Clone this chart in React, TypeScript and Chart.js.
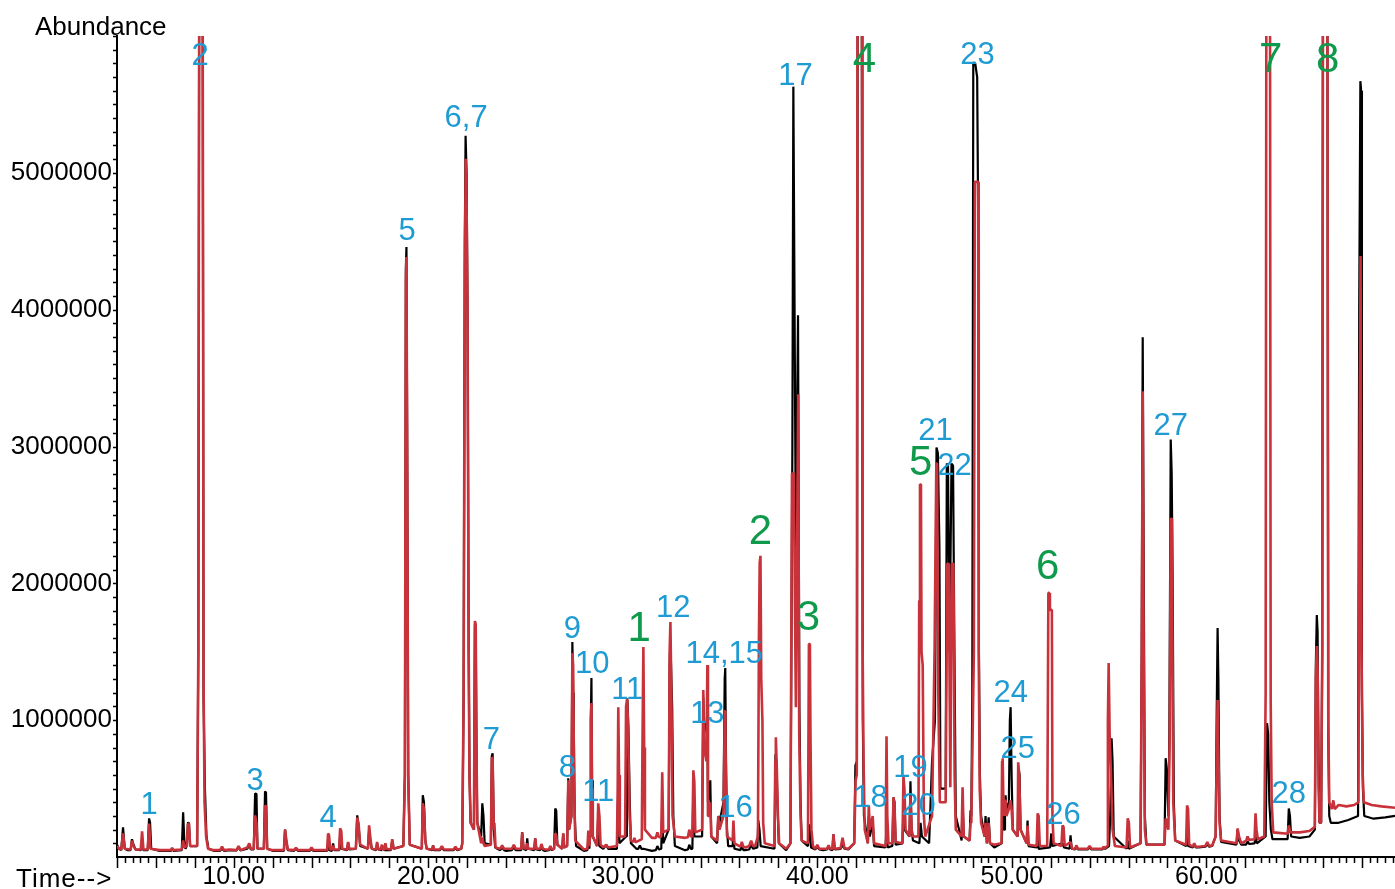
import React, { useEffect, useRef } from "react";
import { Chart, registerables } from "chart.js";

Chart.register(...registerables);

// Abundance values are stored in thousands (k counts); time in minutes.
const UNIT = 1000;

const BLACK_TRACE: [number, number][] = [
  [4.00, 90], [4.10, 60], [4.22, 50], [4.31, 216], [4.40, 60], [4.55, 50], [4.70, 50], [4.77, 130], [4.85, 90], [4.95, 55],
  [5.22, 50], [5.29, 84], [5.36, 50], [5.58, 50], [5.65, 282], [5.70, 250], [5.76, 60], [6.20, 45], [6.78, 45], [6.83, 65],
  [6.90, 45], [7.33, 50], [7.40, 326], [7.46, 120], [7.52, 60], [7.58, 80], [7.65, 253], [7.70, 240], [7.76, 80], [8.12, 80],
  [8.18, 1500], [8.23, 6800], [8.40, 6800], [8.45, 1150], [8.52, 500], [8.60, 150], [8.70, 60], [9.00, 45], [9.80, 50], [10.15, 48],
  [10.25, 75], [10.35, 48], [10.70, 60], [10.80, 95], [10.88, 55], [11.03, 55], [11.10, 465], [11.17, 460], [11.22, 60], [11.55, 60],
  [11.61, 480], [11.66, 470], [11.72, 60], [12.00, 45], [12.58, 45], [12.64, 200], [12.70, 120], [12.78, 50], [13.50, 45], [14.50, 45],
  [14.80, 45], [14.85, 90], [14.92, 50], [15.05, 45], [15.11, 100], [15.17, 50], [15.42, 50], [15.47, 160], [15.53, 60], [15.83, 50],
  [15.88, 106], [15.94, 55], [16.28, 60], [16.35, 304], [16.42, 230], [16.50, 80], [16.90, 60], [16.96, 194], [17.04, 100], [17.10, 60],
  [17.32, 50], [17.37, 99], [17.43, 55], [18.08, 50], [18.15, 121], [18.22, 60], [18.72, 80], [18.80, 600], [18.85, 4300], [18.88, 4458],
  [18.92, 3000], [18.97, 600], [19.05, 90], [19.67, 60], [19.72, 451], [19.78, 400], [19.85, 120], [19.92, 60], [20.20, 50], [20.25, 84],
  [20.30, 50], [21.20, 50], [21.70, 60], [21.75, 100], [21.82, 1200], [21.88, 4500], [21.92, 5271], [21.97, 5000], [22.02, 4000], [22.08, 1500],
  [22.12, 600], [22.18, 250], [22.35, 200], [22.40, 1700], [22.44, 1690], [22.48, 800], [22.52, 250], [22.72, 150], [22.78, 392], [22.84, 300],
  [22.90, 100], [23.22, 90], [23.27, 740], [23.31, 758], [23.37, 200], [23.44, 70], [24.00, 45], [24.78, 50], [24.83, 180], [24.90, 60],
  [25.04, 50], [25.09, 136], [25.14, 60], [25.45, 50], [25.50, 136], [25.56, 55], [26.00, 45], [26.47, 60], [26.53, 355], [26.58, 340],
  [26.64, 90], [26.89, 60], [26.94, 172], [26.99, 70], [27.14, 80], [27.20, 575], [27.24, 200], [27.36, 300], [27.41, 1571], [27.45, 1200],
  [27.48, 976], [27.53, 300], [27.60, 80], [28.00, 45], [28.18, 50], [28.23, 106], [28.28, 60], [28.32, 150], [28.36, 1000], [28.39, 1308],
  [28.42, 560], [28.46, 150], [28.68, 80], [28.74, 304], [28.80, 80], [29.00, 60], [29.15, 90], [29.25, 60], [29.70, 60], [29.77, 509],
  [29.83, 100], [30.17, 150], [30.21, 1100], [30.24, 1147], [30.29, 950], [30.36, 400], [30.42, 100], [30.70, 60], [31.06, 60], [31.50, 45],
  [31.98, 60], [32.03, 341], [32.08, 100], [32.36, 200], [32.41, 1400], [32.45, 1586], [32.50, 1300], [32.54, 1100], [32.60, 300], [32.68, 80],
  [33.20, 50], [33.58, 60], [33.63, 509], [33.68, 150], [34.08, 150], [34.14, 1168], [34.18, 900], [34.32, 1000], [34.35, 1051], [34.38, 400],
  [34.47, 500], [34.50, 560], [34.55, 150], [34.85, 100], [34.91, 300], [34.97, 250], [35.18, 400], [35.24, 1300], [35.27, 1381], [35.31, 700],
  [35.36, 200], [35.42, 80], [35.65, 80], [35.69, 180], [35.74, 60], [36.30, 50], [36.92, 70], [36.97, 267], [37.03, 200], [37.09, 80],
  [37.80, 60], [37.85, 750], [37.90, 700], [37.95, 400], [38.02, 100], [38.40, 50], [38.62, 100], [38.72, 2990], [38.77, 5630], [38.90, 2260],
  [39.01, 3960], [39.08, 1100], [39.14, 400], [39.20, 120], [39.52, 80], [39.60, 238], [39.68, 70], [40.30, 50], [40.78, 50], [40.83, 165],
  [40.90, 55], [41.60, 55], [41.90, 100], [41.96, 670], [42.04, 700], [42.08, 6800], [42.28, 6800], [42.34, 1000], [42.40, 300], [42.60, 100],
  [42.65, 300], [42.70, 150], [42.85, 250], [42.92, 80], [43.50, 70], [43.56, 194], [43.62, 70], [43.86, 80], [43.92, 436], [43.97, 400],
  [44.03, 90], [44.38, 100], [44.43, 340], [44.48, 200], [44.74, 150], [44.79, 553], [44.85, 200], [44.92, 120], [45.25, 100], [45.31, 250],
  [45.38, 150], [45.75, 100], [45.90, 700], [46.05, 1000], [46.13, 2993], [46.20, 2950], [46.28, 2260], [46.33, 500], [46.60, 500], [46.66, 2875],
  [46.72, 2860], [46.80, 1500], [46.90, 2875], [46.98, 2860], [47.05, 1520], [47.12, 300], [47.42, 120], [47.47, 400], [47.53, 150], [47.83, 120],
  [47.88, 341], [47.92, 300], [47.97, 1200], [48.02, 5806], [48.12, 5800], [48.22, 5700], [48.28, 4500], [48.31, 1500], [48.36, 600], [48.42, 300],
  [48.60, 150], [48.65, 300], [48.72, 100], [48.81, 290], [48.88, 100], [49.10, 70], [49.48, 100], [49.53, 300], [49.60, 200], [49.65, 300],
  [49.68, 451], [49.72, 350], [49.85, 400], [49.90, 1000], [49.94, 1095], [49.99, 600], [50.05, 200], [50.30, 150], [50.35, 650], [50.40, 600],
  [50.45, 200], [50.76, 100], [50.81, 267], [50.86, 80], [51.28, 70], [51.33, 150], [51.38, 60], [51.97, 70], [52.03, 172], [52.08, 80],
  [52.61, 100], [52.68, 70], [52.97, 60], [53.02, 158], [53.08, 60], [53.50, 55], [54.50, 55], [55.00, 80], [55.06, 300], [55.13, 868],
  [55.18, 700], [55.24, 150], [55.90, 60], [55.96, 120], [56.02, 60], [56.62, 100], [56.68, 1500], [56.73, 3799], [56.78, 2200], [56.84, 300],
  [56.92, 90], [57.85, 90], [57.91, 722], [57.96, 650], [58.05, 300], [58.10, 900], [58.17, 3051], [58.22, 2800], [58.27, 2000], [58.33, 400],
  [58.40, 120], [58.96, 80], [59.01, 150], [59.07, 80], [59.60, 70], [60.30, 80], [60.48, 150], [60.53, 1000], [60.58, 1674], [60.62, 1300],
  [60.68, 300], [60.76, 110], [61.55, 90], [61.61, 200], [61.68, 120], [61.80, 90], [62.48, 100], [62.53, 150], [62.60, 100], [63.05, 150],
  [63.12, 978], [63.18, 900], [63.24, 400], [63.32, 200], [63.40, 130], [64.18, 130], [64.24, 355], [64.30, 300], [64.36, 150], [64.80, 140],
  [65.30, 150], [65.58, 200], [65.63, 1400], [65.68, 1769], [65.72, 1650], [65.77, 700], [65.82, 250], [65.90, 250], [65.96, 1500], [66.00, 6800],
  [66.22, 6800], [66.27, 900], [66.32, 300], [66.40, 250], [66.80, 250], [67.30, 270], [67.80, 300], [67.86, 4000], [67.92, 5670], [67.96, 5600],
  [68.00, 1200], [68.05, 500], [68.12, 300], [68.60, 280], [69.20, 290], [69.70, 300],
];

// Small baseline bumps of the black trace
const BLACK_BASELINE_BUMPS: [number, number][] = [
  [9.30, 45], [9.40, 62], [9.50, 45], [13.10, 45], [13.20, 60], [13.30, 45], [13.90, 45], [14.00, 58], [14.10, 45],
  [17.60, 50], [17.68, 80], [17.75, 50], [20.60, 50], [20.70, 70], [20.80, 50], [21.30, 50], [21.40, 65], [21.50, 50],
  [23.70, 50], [23.80, 70], [23.90, 50], [24.30, 50], [24.40, 72], [24.50, 50], [25.75, 50], [25.82, 75], [25.90, 50],
  [26.20, 50], [26.28, 62], [26.36, 50], [30.80, 60], [30.88, 85], [30.96, 60], [31.70, 50], [31.78, 80], [31.86, 55],
  [33.35, 55], [33.42, 90], [33.50, 60], [36.05, 50], [36.12, 80], [36.20, 50], [36.50, 55], [36.60, 90], [36.70, 60],
  [39.90, 55], [40.00, 75], [40.10, 55], [40.50, 55], [40.58, 72], [40.66, 55], [41.20, 60], [41.30, 90], [41.40, 60],
  [53.25, 55], [53.32, 75], [53.40, 55], [53.90, 55], [54.00, 70], [54.10, 55], [54.65, 55], [54.72, 68], [54.80, 60],
  [59.30, 70], [59.38, 88], [59.46, 70], [59.95, 75], [60.05, 92], [60.15, 75], [62.05, 90], [62.12, 115], [62.20, 95],
];

const RED_TRACE: [number, number][] = [
  [4.00, 80], [4.10, 60], [4.22, 55], [4.31, 172], [4.40, 60], [4.70, 55], [4.77, 120], [4.85, 80], [4.95, 55], [5.22, 55],
  [5.29, 187], [5.36, 55], [5.58, 55], [5.65, 245], [5.72, 60], [6.20, 50], [6.78, 50], [6.83, 65], [6.90, 50], [7.33, 55],
  [7.40, 121], [7.46, 70], [7.58, 80], [7.65, 245], [7.70, 240], [7.76, 80], [8.12, 80], [8.18, 1500], [8.23, 6800], [8.40, 6800],
  [8.45, 1300], [8.50, 400], [8.58, 150], [8.68, 60], [9.00, 50], [9.80, 55], [10.15, 50], [10.25, 80], [10.35, 50], [10.70, 70],
  [10.80, 100], [10.88, 60], [11.03, 60], [11.10, 304], [11.17, 250], [11.22, 60], [11.55, 60], [11.61, 377], [11.66, 370], [11.72, 60],
  [12.00, 50], [12.58, 50], [12.64, 200], [12.70, 130], [12.78, 55], [13.50, 50], [14.50, 50], [14.80, 50], [14.85, 172], [14.90, 160],
  [14.96, 55], [15.06, 55], [15.11, 84], [15.17, 55], [15.42, 55], [15.47, 209], [15.53, 190], [15.58, 60], [15.83, 55], [15.88, 110],
  [15.94, 60], [16.28, 60], [16.35, 289], [16.42, 240], [16.50, 90], [16.90, 60], [16.96, 231], [17.04, 120], [17.10, 60], [17.32, 55],
  [17.37, 110], [17.43, 60], [17.75, 55], [17.80, 100], [17.85, 60], [18.08, 55], [18.15, 130], [18.22, 60], [18.72, 80], [18.80, 600],
  [18.85, 4200], [18.88, 4385], [18.92, 2800], [18.97, 600], [19.05, 90], [19.67, 60], [19.72, 392], [19.78, 350], [19.85, 120], [19.92, 60],
  [20.20, 55], [20.25, 84], [20.30, 55], [21.20, 55], [21.70, 60], [21.75, 100], [21.82, 1200], [21.88, 4300], [21.93, 5102], [21.97, 4800],
  [22.02, 4000], [22.08, 1500], [22.12, 600], [22.18, 250], [22.35, 200], [22.40, 1725], [22.44, 1700], [22.48, 800], [22.52, 250], [22.72, 100],
  [22.78, 143], [22.84, 100], [22.90, 80], [23.22, 90], [23.27, 729], [23.31, 720], [23.37, 200], [23.40, 250], [23.46, 70], [24.00, 60],
  [24.78, 60], [24.83, 180], [24.90, 65], [25.04, 60], [25.09, 100], [25.14, 60], [25.45, 60], [25.50, 136], [25.56, 60], [26.00, 55],
  [26.47, 60], [26.53, 172], [26.58, 160], [26.64, 90], [26.89, 60], [26.94, 172], [26.99, 70], [27.14, 80], [27.20, 560], [27.24, 200],
  [27.36, 300], [27.41, 1491], [27.45, 1400], [27.50, 500], [27.56, 120], [28.00, 55], [28.18, 60], [28.23, 194], [28.28, 80], [28.32, 150],
  [28.36, 1000], [28.39, 1125], [28.42, 500], [28.46, 150], [28.68, 80], [28.74, 392], [28.80, 300], [28.86, 90], [29.00, 70], [29.15, 90],
  [29.25, 70], [29.70, 80], [29.74, 500], [29.77, 1095], [29.81, 600], [29.85, 150], [30.12, 150], [30.17, 1100], [30.23, 1161], [30.28, 900],
  [30.35, 300], [30.42, 120], [30.70, 110], [30.98, 130], [31.01, 750], [31.06, 1535], [31.10, 800], [31.14, 200], [31.50, 140], [31.98, 150],
  [32.03, 619], [32.08, 180], [32.36, 200], [32.41, 1500], [32.45, 1718], [32.50, 1200], [32.56, 300], [32.68, 150], [33.20, 140], [33.58, 150],
  [33.63, 634], [33.68, 550], [33.73, 180], [34.08, 200], [34.14, 1220], [34.18, 800], [34.30, 700], [34.35, 1403], [34.38, 300], [34.47, 300],
  [34.50, 400], [34.55, 150], [34.85, 120], [34.91, 300], [34.97, 200], [35.18, 300], [35.24, 1000], [35.27, 1073], [35.31, 400], [35.36, 150],
  [35.65, 120], [35.69, 267], [35.74, 100], [36.30, 70], [36.80, 80], [36.95, 150], [37.00, 1600], [37.04, 2150], [37.08, 2201], [37.12, 1300],
  [37.18, 1000], [37.22, 250], [37.30, 100], [37.80, 80], [37.84, 700], [37.87, 875], [37.92, 650], [37.98, 300], [38.04, 100], [38.40, 60],
  [38.62, 100], [38.70, 2802], [38.79, 2802], [38.90, 1095], [39.02, 3381], [39.07, 900], [39.14, 300], [39.20, 120], [39.52, 100], [39.57, 1557],
  [39.62, 1557], [39.65, 900], [39.70, 200], [39.78, 80], [40.30, 60], [40.78, 60], [40.83, 165], [40.90, 60], [41.60, 60], [41.90, 100],
  [41.97, 560], [42.03, 600], [42.07, 6800], [42.30, 6800], [42.33, 1557], [42.38, 700], [42.44, 200], [42.60, 100], [42.65, 377], [42.70, 200],
  [42.85, 300], [42.92, 100], [43.50, 80], [43.53, 400], [43.56, 883], [43.60, 300], [43.66, 100], [43.86, 100], [43.92, 436], [43.97, 380],
  [44.03, 110], [44.38, 100], [44.43, 590], [44.48, 500], [44.54, 200], [44.74, 150], [44.79, 450], [44.85, 200], [44.92, 150], [45.20, 150],
  [45.24, 1872], [45.28, 2722], [45.33, 2722], [45.36, 1500], [45.42, 1400], [45.48, 300], [45.55, 150], [45.90, 300], [46.03, 1520], [46.12, 2875],
  [46.16, 2875], [46.22, 1200], [46.30, 400], [46.60, 400], [46.68, 2143], [46.76, 2143], [46.84, 509], [46.92, 2143], [47.00, 2143], [47.06, 600],
  [47.12, 200], [47.42, 150], [47.47, 509], [47.53, 150], [47.83, 120], [47.88, 250], [47.92, 250], [48.05, 1500], [48.10, 4934], [48.27, 4934],
  [48.30, 1500], [48.35, 500], [48.42, 250], [48.60, 150], [48.65, 250], [48.72, 100], [48.81, 250], [48.88, 100], [49.10, 90], [49.47, 100],
  [49.50, 700], [49.53, 722], [49.57, 400], [49.62, 300], [49.68, 420], [49.72, 300], [49.85, 350], [49.94, 414], [49.99, 350], [50.05, 200],
  [50.30, 150], [50.33, 692], [50.38, 600], [50.45, 200], [50.76, 100], [50.81, 230], [50.86, 90], [51.28, 80], [51.33, 319], [51.38, 300],
  [51.44, 80], [51.82, 80], [51.88, 1930], [51.92, 1930], [51.96, 1806], [52.06, 1806], [52.09, 300], [52.15, 100], [52.55, 80], [52.61, 231],
  [52.66, 220], [52.72, 80], [53.02, 110], [53.10, 60], [53.50, 60], [54.50, 60], [54.90, 80], [54.94, 1000], [54.98, 1418], [55.03, 900],
  [55.10, 600], [55.18, 200], [55.30, 80], [55.90, 70], [55.96, 282], [56.02, 250], [56.08, 70], [56.62, 100], [56.68, 1500], [56.73, 3403],
  [56.78, 1500], [56.84, 200], [56.92, 90], [57.85, 90], [57.91, 282], [57.96, 250], [58.05, 200], [58.12, 900], [58.17, 2472], [58.23, 2472],
  [58.30, 400], [58.40, 120], [58.96, 90], [59.01, 377], [59.06, 350], [59.12, 90], [59.60, 75], [60.30, 85], [60.48, 150], [60.53, 700],
  [60.58, 1147], [60.62, 800], [60.68, 250], [60.76, 120], [61.55, 100], [61.61, 209], [61.68, 150], [61.80, 100], [62.48, 130], [62.53, 319],
  [62.58, 200], [62.65, 130], [62.98, 150], [63.05, 1200], [63.09, 6800], [63.27, 6800], [63.31, 1132], [63.36, 400], [63.44, 180], [64.18, 170],
  [64.24, 230], [64.32, 180], [64.80, 180], [65.30, 190], [65.58, 220], [65.63, 1300], [65.68, 1542], [65.72, 1400], [65.77, 500], [65.82, 250],
  [65.90, 250], [65.96, 1500], [66.00, 6800], [66.22, 6800], [66.27, 1000], [66.32, 400], [66.45, 350], [66.53, 414], [66.60, 350], [66.80, 380],
  [67.20, 370], [67.60, 380], [67.82, 400], [67.88, 3000], [67.93, 4392], [67.98, 1500], [68.04, 600], [68.10, 400], [68.50, 380], [69.00, 370],
  [69.70, 360],
];

// Small baseline bumps of the red trace
const RED_BASELINE_BUMPS: [number, number][] = [
  [9.30, 50], [9.40, 75], [9.50, 50], [13.10, 50], [13.20, 68], [13.30, 50], [13.90, 50], [14.00, 70], [14.10, 50],
  [17.55, 55], [17.62, 90], [17.68, 55], [20.60, 55], [20.70, 80], [20.80, 55], [21.30, 55], [21.40, 75], [21.50, 55],
  [23.70, 60], [23.80, 85], [23.90, 60], [24.30, 60], [24.40, 90], [24.50, 60], [25.75, 60], [25.82, 95], [25.90, 60],
  [26.20, 55], [26.28, 80], [26.36, 55], [30.55, 110], [30.60, 140], [30.65, 110], [31.70, 140], [31.78, 180], [31.86, 145],
  [33.35, 145], [33.42, 200], [33.50, 150], [36.05, 75], [36.12, 110], [36.20, 75], [36.50, 80], [36.60, 120], [36.70, 80],
  [39.90, 60], [40.00, 90], [40.10, 60], [40.50, 60], [40.58, 85], [40.66, 60], [41.20, 65], [41.30, 140], [41.40, 65],
  [53.25, 60], [53.32, 85], [53.40, 60], [53.90, 60], [54.00, 80], [54.10, 60], [54.65, 60], [54.72, 75], [54.80, 65],
  [59.30, 75], [59.38, 100], [59.46, 75], [59.95, 80], [60.05, 110], [60.15, 80], [62.05, 120], [62.12, 150], [62.20, 125],
];

// Peak labels: [text, time (min), abundance (k) at the label centre]
const BLUE_LABELS: [string, number, number][] = [
  ["1", 5.65, 399], ["2", 8.27, 5872], ["3", 11.10, 568], ["4", 14.85, 297], ["5", 18.92, 4590],
  ["6,7", 21.95, 5418], ["7", 23.24, 868], ["8", 27.15, 663], ["9", 27.41, 1681], ["10", 28.43, 1425],
  ["11", 30.23, 1234], ["11", 28.74, 487], ["12", 32.60, 1835], ["13", 34.35, 1059], ["14,15", 35.22, 1498],
  ["16", 35.79, 370], ["17", 38.88, 5725], ["18", 42.74, 443], ["19", 44.79, 663], ["20", 45.20, 385],
  ["21", 46.08, 3132], ["22", 47.06, 2875], ["23", 48.24, 5879], ["24", 49.94, 1212], ["25", 50.30, 802],
  ["26", 52.66, 319], ["27", 58.17, 3168], ["28", 64.24, 473],
];

const GREEN_LABELS: [string, number, number][] = [
  ["1", 30.85, 1689], ["2", 37.08, 2399], ["3", 39.55, 1769], ["4", 42.43, 5850],
  ["5", 45.31, 2898], ["6", 51.84, 2143], ["7", 63.31, 5850], ["8", 66.24, 5850],
];

const X_TICK_LABELS = [10, 20, 30, 40, 50, 60];
const Y_TICK_LABELS = [1000000, 2000000, 3000000, 4000000, 5000000];
const X_MIN = 4;
const X_MAX = 69.7;
const Y_MAX = 6000000;
const X_MINOR_STEP = 0.4;
const X_MAJOR_STEP = 2;
const Y_MINOR_STEP = 100000;

const FONT = '"Liberation Sans", Arial, Helvetica, sans-serif';
const BLUE = "#1e9bd2";
const GREEN = "#0f9a4b";
const RED = "#c8323a";

export default function App() {
  const ref = useRef<HTMLCanvasElement>(null);

  useEffect(() => {
    const canvas = ref.current;
    if (!canvas) return;

    const decor = {
      id: "decor",
      afterDatasetsDraw(chart: any) {
        const { ctx, scales } = chart;
        const xs = scales.x;
        const ys = scales.y;
        const draw = (list: [string, number, number][], color: string, size: number) => {
          ctx.save();
          ctx.fillStyle = color;
          ctx.font = `${size}px ${FONT}`;
          ctx.textAlign = "center";
          ctx.textBaseline = "alphabetic";
          for (const [text, t, v] of list) {
            const px = xs.getPixelForValue(t);
            const py = ys.getPixelForValue(v * UNIT);
            ctx.fillText(text, px, py + size * 0.358);
          }
          ctx.restore();
        };
        draw(BLUE_LABELS, BLUE, 31);
        draw(GREEN_LABELS, GREEN, 42);
      },
      afterDraw(chart: any) {
        const { ctx, scales, chartArea } = chart;
        const xs = scales.x;
        const ys = scales.y;
        ctx.save();
        ctx.strokeStyle = "#000";
        ctx.lineWidth = 1.5;
        ctx.beginPath();
        for (let i = 0; ; i++) {
          const t = X_MIN + i * X_MINOR_STEP;
          if (t > X_MAX + 1e-6) break;
          const px = Math.round(xs.getPixelForValue(t)) + 0.5;
          const r = t / X_MAJOR_STEP;
          const major = Math.abs(r - Math.round(r)) < 1e-6;
          ctx.moveTo(px, chartArea.bottom);
          ctx.lineTo(px, chartArea.bottom + (major ? 11 : 6));
        }
        for (let v = Y_MINOR_STEP; v <= Y_MAX + 1; v += Y_MINOR_STEP) {
          const py = Math.round(ys.getPixelForValue(v)) + 0.5;
          ctx.moveTo(chartArea.left, py);
          ctx.lineTo(chartArea.left - 4, py);
        }
        ctx.stroke();
        ctx.fillStyle = "#000";
        ctx.font = `26px ${FONT}`;
        ctx.textAlign = "left";
        ctx.textBaseline = "alphabetic";
        ctx.fillText("Abundance", 35, 35);
        try {
          (ctx as any).letterSpacing = "1px";
        } catch (e) {
          /* ignore */
        }
        ctx.fillText("Time-->", 16, 887);
        ctx.restore();
      },
    };

    const toPoints = (main: [number, number][], bumps: [number, number][]) =>
      [...main, ...bumps].sort((a, b) => a[0] - b[0]).map(([t, v]) => ({ x: t, y: v * UNIT }));

    const chart = new Chart(canvas, {
      type: "line",
      data: {
        datasets: [
          {
            label: "red",
            data: toPoints(RED_TRACE, RED_BASELINE_BUMPS),
            borderColor: RED,
            borderWidth: 2.6,
            pointRadius: 0,
            fill: false,
            tension: 0,
            order: 0,
          },
          {
            label: "black",
            data: toPoints(BLACK_TRACE, BLACK_BASELINE_BUMPS),
            borderColor: "#000",
            borderWidth: 2.2,
            pointRadius: 0,
            fill: false,
            tension: 0,
            order: 1,
          },
        ],
      },
      options: {
        responsive: false,
        maintainAspectRatio: false,
        animation: false,
        events: [],
        layout: { padding: { top: 36, left: 0, right: 0, bottom: 0 } },
        elements: { line: { borderJoinStyle: "bevel" }, point: { radius: 0 } },
        plugins: {
          legend: { display: false },
          tooltip: { enabled: false },
          title: { display: false },
        },
        scales: {
          x: {
            type: "linear",
            min: X_MIN,
            max: X_MAX,
            afterBuildTicks: (axis: any) => {
              axis.ticks = X_TICK_LABELS.map((v) => ({ value: v }));
            },
            afterFit: (axis: any) => {
              axis.height = 32;
            },
            ticks: {
              autoSkip: false,
              maxRotation: 0,
              minRotation: 0,
              padding: 5,
              color: "#000",
              font: { family: FONT, size: 25 },
              callback: (v: any) => Number(v).toFixed(2),
            },
            grid: { display: false, drawTicks: false },
            border: { display: true, color: "#000", width: 2 },
          },
          y: {
            type: "linear",
            min: 0,
            max: Y_MAX,
            afterBuildTicks: (axis: any) => {
              axis.ticks = Y_TICK_LABELS.map((v) => ({ value: v }));
            },
            afterFit: (axis: any) => {
              axis.width = 117;
            },
            ticks: {
              padding: 5,
              color: "#000",
              font: { family: FONT, size: 26 },
              callback: (v: any) => String(v),
            },
            grid: { display: false, drawTicks: false },
            border: { display: true, color: "#000", width: 2 },
          },
        },
      },
      plugins: [decor],
    } as any);

    return () => chart.destroy();
  }, []);

  return (
    <div style={{ position: "absolute", left: 0, top: 0, width: 1395, height: 889, background: "#fff" }}>
      <canvas ref={ref} width={1395} height={889} style={{ display: "block", width: 1395, height: 889 }} />
    </div>
  );
}
